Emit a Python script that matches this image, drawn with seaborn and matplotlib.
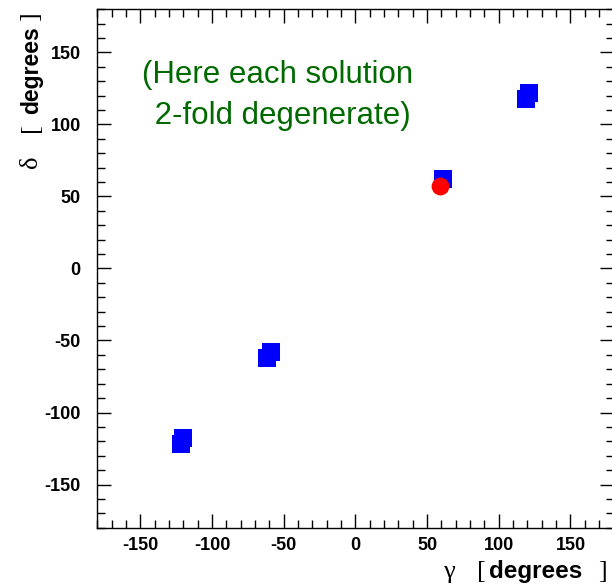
import matplotlib
matplotlib.use("Agg")
import matplotlib.pyplot as plt
import seaborn as sns
import pandas as pd
from matplotlib.ticker import MultipleLocator

# Data (degrees)
sol_gamma = [-122, -120, -61.5, -59, 61, 119, 121]
sol_delta = [-122, -118, -62, -58, 62, 118, 122]
true_gamma = [59]
true_delta = [57]
xticks = [-150, -100, -50, 0, 50, 100, 150]
yticks = [-150, -100, -50, 0, 50, 100, 150]
note_text = "(Here each solution\n 2-fold degenerate)"

sns.set_style("white")
plt.rcParams['font.family'] = ['Liberation Sans', 'DejaVu Sans']
plt.rcParams['axes.unicode_minus'] = False
plt.rcParams['text.color'] = 'black'
plt.rcParams['xtick.color'] = 'black'
plt.rcParams['ytick.color'] = 'black'

W, H = 612, 585
fig = plt.figure(figsize=(W / 100, H / 100), dpi=100)
ax = fig.add_axes([97.4 / W, 57.3 / H, (613.5 - 97.4) / W, (527.7 - 9.3) / H])

sol_df = pd.DataFrame({"gamma": sol_gamma, "delta": sol_delta})
true_df = pd.DataFrame({"gamma": true_gamma, "delta": true_delta})

sns.scatterplot(data=sol_df, x="gamma", y="delta", marker="s", s=150,
                color="#0000ff", linewidth=0, ax=ax, zorder=3)
sns.scatterplot(data=true_df, x="gamma", y="delta", marker="o", s=165,
                color="#ff0000", linewidth=0, ax=ax, zorder=4)

ax.set_xlim(-180, 180)
ax.set_ylim(-180, 180)
ax.set_xticks(xticks)
ax.set_yticks(yticks)
ax.set_xticklabels([str(v) for v in xticks])
ax.set_yticklabels([str(v) for v in yticks])
ax.xaxis.set_minor_locator(MultipleLocator(10))
ax.yaxis.set_minor_locator(MultipleLocator(10))
ax.tick_params(which='both', direction='in', top=True, right=True,
               bottom=True, left=True, color='black', width=1)
ax.tick_params(which='major', length=10)
ax.tick_params(which='minor', length=6)
ax.tick_params(axis='x', which='major', pad=7)
ax.tick_params(axis='y', which='major', pad=12)
for lab in ax.get_xticklabels() + ax.get_yticklabels():
    lab.set_fontweight('bold')
    lab.set_fontsize(13)
    lab.set_color('black')
for sp in ax.spines.values():
    sp.set_color('black')
    sp.set_linewidth(1)
ax.set_xlabel("")
ax.set_ylabel("")

# Note text
ax.text(-54, 120, note_text, color='#006a00', fontsize=22.5, ha='center',
        va='center', linespacing=1.5)

serif = ['Liberation Serif', 'DejaVu Serif']

def ftext(px, py, s, **kw):
    return fig.text(px / W, 1 - py / H, s, **kw)

# x label pieces: "γ  [ degrees ]"
base = 578
ftext(449, base, "γ", family=serif, fontsize=19, ha='center', va='baseline')
ftext(481, base, "[", family=serif, fontsize=19, ha='center', va='baseline')
ftext(536, base, "degrees", fontsize=17.5, fontweight='bold', ha='center', va='baseline')
ftext(602, base, "]", family=serif, fontsize=19, ha='center', va='baseline')

# y label pieces (rotated): "δ [ degrees ]"
ftext(31, 162, "δ", family=serif, fontsize=19, rotation=90, ha='center', va='center')
ftext(31, 128, "[", family=serif, fontsize=19, rotation=90, ha='center', va='center')
ftext(32, 70, "degrees", fontsize=16.5, fontweight='bold', rotation=90, ha='center', va='center')
ftext(31, 17, "]", family=serif, fontsize=19, rotation=90, ha='center', va='center')

fig.savefig("out.png", dpi=100, facecolor='white')
